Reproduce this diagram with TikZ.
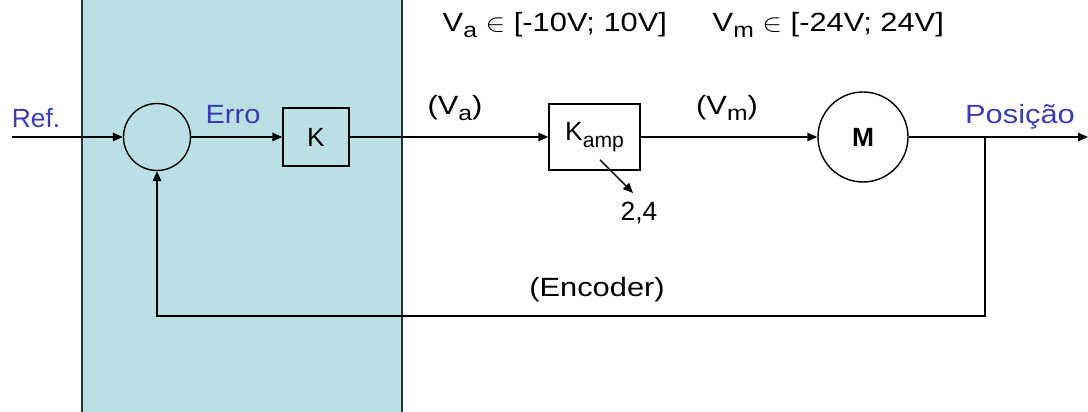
\documentclass[tikz,border=0pt]{standalone}
\usepackage{fontspec}
\setmainfont{Liberation Sans}
\usetikzlibrary{arrows.meta,positioning}
\definecolor{ctrlcyan}{RGB}{187,224,227}
\definecolor{sigblue}{RGB}{60,60,180}
\definecolor{edgegray}{RGB}{40,50,50}
\newcommand{\lowsub}[1]{\raisebox{-0.45ex}{\fontsize{12}{14}\selectfont #1}}
\newcommand{\wtxt}[1]{\scalebox{1.17}[1]{#1}}

\begin{document}
\begin{tikzpicture}[>={Triangle[length=2mm,width=1.7mm]},
  line width=0.8pt,
  font=\fontsize{15}{18}\selectfont,
  block/.style={draw,rectangle,inner sep=0pt,line width=0.8pt},
  junc/.style={draw,circle,inner sep=0pt,line width=0.8pt},
  sig/.style={text=sigblue},
  wire/.style={->,line width=0.8pt}]

%% ── bounding box and controller band ─────────────────────────────────────
\useasboundingbox (0,0) rectangle (21.76,-8.24);
\clip (0,0) rectangle (21.76,-8.24);
\fill[ctrlcyan] (1.64,0.2) rectangle (8.04,-8.5);
\draw[edgegray,line width=0.7pt] (1.64,0.2) -- (1.64,-8.5);
\draw[edgegray,line width=0.7pt] (8.04,0.2) -- (8.04,-8.5);

%% ── blocks ────────────────────────────────────────────────────────────────
\coordinate (in) at (0.24,-2.74);
\node[junc,minimum size=1.34cm] (sum) at (3.14,-2.74) {};
\node[block,minimum width=1.32cm,minimum height=1.16cm] (gain) at (6.32,-2.74) {K};
\node[block,minimum width=1.82cm,minimum height=1.32cm] (amp) at (11.89,-2.74)
  {K\lowsub{amp}};
\node[junc,minimum size=1.8cm,font=\fontsize{15}{18}\selectfont\bfseries] (motor)
  at (17.26,-2.74) {M};
\coordinate (out) at (21.76,-2.74);
\coordinate (tap) at (19.7,-2.74);
\coordinate (fbr) at (19.7,-6.32);
\coordinate (fbl) at (3.14,-6.32);

%% ── forward path ──────────────────────────────────────────────────────────
\draw[wire] (in) -- (sum.west);
\draw[wire] (sum.east) -- (gain.west);
\draw[wire] (gain.east) -- (amp.west);
\draw[wire] (amp.east) -- (motor.west);
\draw[wire] (motor.east) -- (out);

%% feedback (encoder)
\draw[wire] (tap) -- (fbr) -- (fbl) -- (sum.south);

%% amplifier gain value
\coordinate (ampv) at (12.0,-3.2);
\node (gval) at (12.78,-4.26) {2,4};
\draw[->] (ampv) -- (12.66,-3.86);

%% ── labels ────────────────────────────────────────────────────────────────
\node[sig] (lref) at (0.72,-2.36) {Ref.};
\node[sig] (lerr) at (4.66,-2.3) {\scalebox{1.1}[1]{Erro}};
\node (lva) at (9.1,-2.16) {\wtxt{(V\lowsub{a})}};
\node (lvm) at (14.54,-2.16) {\wtxt{(V\lowsub{m})}};
\node[sig] (lpos) at (20.4,-2.34) {\wtxt{Posição}};
\node (lenc) at (11.94,-5.8) {\wtxt{(Encoder)}};
\node[anchor=west,inner sep=0pt] (lrnga) at (8.84,-0.5)
  {\wtxt{V\lowsub{a} $\in$ [-10V; 10V]}};
\node[anchor=west,inner sep=0pt] (lrngm) at (14.24,-0.5)
  {\wtxt{V\lowsub{m} $\in$ [-24V; 24V]}};

\end{tikzpicture}
\end{document}
